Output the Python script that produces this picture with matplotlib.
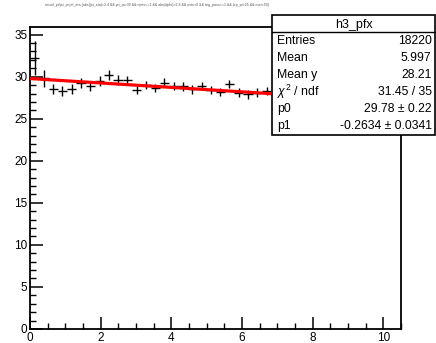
import matplotlib.pyplot as plt
import numpy as np
from matplotlib.ticker import MultipleLocator

plt.rcParams['font.family'] = ['Liberation Sans', 'DejaVu Sans']
plt.rcParams['mathtext.fontset'] = 'custom'
plt.rcParams['mathtext.rm'] = 'Liberation Sans'
plt.rcParams['mathtext.it'] = 'Liberation Sans:italic'

# profile bins (40 bins over 0..10.5), only the bins not hidden by the stats box
bin_width = 10.5 / 40
bin_index = np.arange(26)
y_mean = [32.2, 29.8, 28.5, 28.3, 28.5, 29.2, 28.9, 29.5, 30.2, 29.6,
          29.6, 28.4, 29.0, 28.65, 29.3, 28.9, 28.85, 28.5, 28.9, 28.4,
          28.2, 29.1, 28.1, 27.9, 28.1, 28.3]
y_err = [2.0, 1.0, 0.6, 0.6, 0.6, 0.6, 0.55, 0.55, 0.55, 0.55,
         0.5, 0.5, 0.5, 0.5, 0.5, 0.5, 0.5, 0.5, 0.5, 0.5,
         0.5, 0.5, 0.5, 0.5, 0.5, 0.5]

# fit result pol1
p0, p1 = 29.78, -0.2634

stats_rows = [('Entries', '18220'),
              ('Mean', '5.997'),
              ('Mean y', '28.21'),
              (r'$\chi^2$ / ndf', '31.45 / 35'),
              ('p0', '29.78 \u00b1 0.22'),
              ('p1', '-0.2634 \u00b1 0.0341')]

x = (bin_index + 0.5) * bin_width

fig = plt.figure(figsize=(4.36, 3.43), dpi=100)
ax = fig.add_axes([0.0688, 0.041, 0.851, 0.88])

ax.errorbar(x, y_mean, xerr=bin_width / 2, yerr=y_err, fmt='none',
            ecolor='black', elinewidth=1.0, capsize=0, zorder=2)
xf = np.array([0, 10.5])
ax.plot(xf, p0 + p1 * xf, color='red', lw=2.3, zorder=3)

ax.set_xlim(0, 10.5)
ax.set_ylim(0, 35.9)
ax.xaxis.set_major_locator(MultipleLocator(2))
ax.xaxis.set_minor_locator(MultipleLocator(0.5))
ax.yaxis.set_major_locator(MultipleLocator(5))
ax.yaxis.set_minor_locator(MultipleLocator(1))
ax.tick_params(which='major', direction='in', length=9, width=1.1, labelsize=8.5, pad=2)
ax.tick_params(which='minor', direction='in', length=4.5, width=1.0)
ax.tick_params(top=False, right=False, which='both')
for s in ax.spines.values():
    s.set_linewidth(1.3)

# tiny ROOT title
fig.text(0.36, 0.985, 'recoil_pt/jet_pt:jet_eta {abs(jet_eta)<2.4 && jet_pt>30 && njets==1 && '
         'abs(dphi)>2.8 && nvtx>0 && trig_pass==1 && lep_pt>25 && met<50}',
         fontsize=2.6, ha='center', va='center', color='#555555')

# stats box
bx0, bx1 = 272 / 436, 435 / 436
by_top, by_bot = 1 - 15 / 343, 1 - 135 / 343
title_bot = 1 - 32 / 343
fig.patches.append(plt.Rectangle((bx0, by_bot), bx1 - bx0, by_top - by_bot,
                                 transform=fig.transFigure, facecolor='white',
                                 edgecolor='black', lw=1.2, zorder=5))
fig.lines.append(plt.Line2D([bx0, bx1], [title_bot, title_bot],
                            transform=fig.transFigure, color='black', lw=1.0, zorder=6))
fig.text((bx0 + bx1) / 2, (by_top + title_bot) / 2 - 0.003, 'h3_pfx', fontsize=9,
         ha='center', va='center', zorder=7)
row_h = (title_bot - by_bot) / len(stats_rows)
for i, (name, val) in enumerate(stats_rows):
    yc = title_bot - (i + 0.5) * row_h
    fig.text(bx0 + 0.012, yc, name, fontsize=8.8, ha='left', va='center', zorder=7)
    fig.text(bx1 - 0.008, yc, val, fontsize=8.8, ha='right', va='center', zorder=7)

plt.savefig('out.png', dpi=100)
